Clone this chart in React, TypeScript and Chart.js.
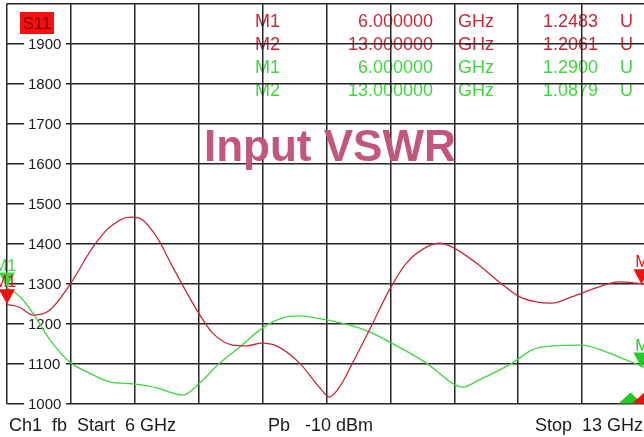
import { useEffect, useRef } from 'react';
import { Chart, registerables } from 'chart.js';

Chart.register(...registerables);

// ---- data (VSWR x 1000, frequency in GHz) ----
const redFreq = [6.0, 6.142, 6.284, 6.47, 6.7, 6.941, 7.127, 7.346, 7.455, 7.641, 7.816, 8.1, 8.253, 8.472, 8.625, 8.789, 8.953, 9.205, 9.424, 9.533, 9.642, 9.785, 9.971, 10.189, 10.375, 10.594, 10.736, 10.878, 11.141, 11.392, 11.611, 11.797, 11.972, 12.191, 12.453, 12.705, 12.891, 13.0];
const redVswr = [1248, 1240, 1221, 1234, 1301, 1391, 1441, 1466, 1463, 1416, 1341, 1226, 1176, 1146, 1144, 1151, 1144, 1101, 1040, 1016, 1041, 1101, 1184, 1284, 1351, 1391, 1401, 1391, 1351, 1304, 1267, 1254, 1251, 1267, 1289, 1304, 1301, 1298];

const greenFreq = [6.0, 6.142, 6.284, 6.47, 6.7, 6.875, 7.127, 7.378, 7.641, 7.816, 7.925, 8.111, 8.33, 8.549, 8.8, 9.019, 9.205, 9.424, 9.785, 9.971, 10.189, 10.594, 10.878, 10.988, 11.173, 11.534, 11.753, 11.972, 12.3, 12.563, 12.781, 12.956, 13.0];
const greenVswr = [1290, 1267, 1226, 1159, 1101, 1079, 1054, 1049, 1039, 1026, 1021, 1051, 1101, 1141, 1189, 1214, 1219, 1212, 1194, 1179, 1154, 1101, 1051, 1041, 1059, 1101, 1134, 1144, 1146, 1129, 1109, 1093, 1088];

const xGrid = [6, 6.7, 7.4, 8.1, 8.8, 9.5, 10.2, 10.9, 11.6, 12.3, 13];
const yGrid = [1000, 1100, 1200, 1300, 1400, 1500, 1600, 1700, 1800, 1900, 2000];
const yTickLabels = ['1000', '1100', '1200', '1300', '1400', '1500', '1600', '1700', '1800', '1900'];

const markerNames = ['M1', 'M2'];
const markerFreqs = [6, 12.95];
const markerFreqText = ['6.000000', '13.000000'];
const redMarkerVswr = [1248, 1298];
const greenMarkerVswr = [1290, 1090];
const redReadout = ['1.2483', '1.2061'];
const greenReadout = ['1.2900', '1.0879'];
const stimMarkerFreqs = [12.83, 12.98];

const RED = '#c8283c';
const GREEN = '#3fd63f';
const FONT = "'Liberation Sans', Arial, sans-serif";

function tri(ctx: CanvasRenderingContext2D, x: number, y: number, hw: number, h: number, down: boolean, color: string) {
  ctx.beginPath();
  if (down) {
    ctx.moveTo(x - hw, y - h);
    ctx.lineTo(x + hw, y - h);
    ctx.lineTo(x, y);
  } else {
    ctx.moveTo(x - hw, y);
    ctx.lineTo(x + hw, y);
    ctx.lineTo(x, y - h);
  }
  ctx.closePath();
  ctx.fillStyle = color;
  ctx.fill();
}

const overlay = {
  id: 'overlay',
  beforeDraw(chart: any) {
    const ctx = chart.ctx as CanvasRenderingContext2D;
    ctx.save();
    ctx.font = `18px ${FONT}`;
    ctx.textBaseline = 'middle';
    const rows = [
      { c: RED, i: 0, v: redReadout[0] },
      { c: RED, i: 1, v: redReadout[1] },
      { c: GREEN, i: 0, v: greenReadout[0] },
      { c: GREEN, i: 1, v: greenReadout[1] },
    ];
    rows.forEach((r, k) => {
      const y = 22 + k * 23;
      ctx.fillStyle = r.c;
      ctx.textAlign = 'left';
      ctx.fillText(markerNames[r.i], 255, y);
      ctx.textAlign = 'right';
      ctx.fillText(markerFreqText[r.i], 433, y);
      ctx.textAlign = 'left';
      ctx.fillText('GHz', 458, y);
      ctx.textAlign = 'right';
      ctx.fillText(r.v, 598, y);
      ctx.textAlign = 'left';
      ctx.fillText('U', 620, y);
    });
    ctx.restore();
  },
  beforeDatasetsDraw(chart: any) {
    const ctx = chart.ctx as CanvasRenderingContext2D;
    const ys = chart.scales.y;
    ctx.save();
    // y tick labels with white backdrop
    ctx.font = `15px ${FONT}`;
    ctx.textBaseline = 'middle';
    ctx.textAlign = 'left';
    yTickLabels.forEach((t) => {
      const py = ys.getPixelForValue(Number(t));
      ctx.fillStyle = '#ffffff';
      ctx.fillRect(24, py - 6, 42, 12);
      ctx.fillStyle = '#1a1a1a';
      ctx.fillText(t, 28, py + 1);
    });
    // S11 box
    ctx.fillStyle = '#f81010';
    ctx.fillRect(20, 12, 34, 22);
    ctx.fillStyle = '#7a0000';
    ctx.font = `17px ${FONT}`;
    ctx.textAlign = 'center';
    ctx.fillText('S11', 37, 24);
    // title
    ctx.font = `bold 44px ${FONT}`;
    ctx.fillStyle = '#c2567f';
    ctx.textAlign = 'left';
    ctx.textBaseline = 'alphabetic';
    ctx.fillText('Input VSWR', 204, 161);
    ctx.restore();
  },
  afterDatasetsDraw(chart: any) {
    const ctx = chart.ctx as CanvasRenderingContext2D;
    const xs = chart.scales.x;
    const ys = chart.scales.y;
    ctx.save();
    ctx.font = `16px ${FONT}`;
    ctx.textAlign = 'center';
    ctx.textBaseline = 'alphabetic';
    const drawMarker = (f: number, v: number, color: string, name: string, dx: number) => {
      const px = xs.getPixelForValue(f);
      const py = ys.getPixelForValue(v);
      tri(ctx, px, py, 8, 15, true, color);
      ctx.fillStyle = color;
      ctx.fillText(name, px + dx, py - 17);
    };
    drawMarker(markerFreqs[0], greenMarkerVswr[0], GREEN, markerNames[0], -2);
    drawMarker(markerFreqs[0], redMarkerVswr[0], '#f01010', markerNames[0], -2);
    drawMarker(markerFreqs[1], greenMarkerVswr[1], '#22cc22', markerNames[1], 5);
    drawMarker(markerFreqs[1], redMarkerVswr[1], '#f01010', markerNames[1], 5);
    // stimulus markers at bottom
    const by = ys.getPixelForValue(1000);
    tri(ctx, xs.getPixelForValue(stimMarkerFreqs[0]), by, 12, 11, false, '#22cc22');
    tri(ctx, xs.getPixelForValue(stimMarkerFreqs[1]), by, 12, 11, false, '#f01010');
    // footer
    ctx.font = `18px ${FONT}`;
    ctx.fillStyle = '#1a1a1a';
    ctx.textAlign = 'left';
    ctx.fillText('Ch1  fb  Start  6 GHz', 9, 431);
    ctx.fillText('Pb   -10 dBm', 268, 431);
    ctx.textAlign = 'right';
    ctx.fillText('Stop  13 GHz', 643, 431);
    ctx.restore();
  },
};

export default function App() {
  const ref = useRef<HTMLCanvasElement>(null);
  useEffect(() => {
    if (!ref.current) return;
    const grid = { color: '#262626', lineWidth: 1.5, drawTicks: false };
    const chart = new Chart(ref.current, {
      type: 'line',
      data: {
        datasets: [
          {
            data: redFreq.map((f, i) => ({ x: f, y: redVswr[i] })),
            borderColor: RED,
            borderWidth: 1.3,
            pointRadius: 0,
            cubicInterpolationMode: 'monotone',
          },
          {
            data: greenFreq.map((f, i) => ({ x: f, y: greenVswr[i] })),
            borderColor: GREEN,
            borderWidth: 1.3,
            pointRadius: 0,
            cubicInterpolationMode: 'monotone',
          },
        ],
      },
      options: {
        animation: false,
        responsive: false,
        layout: { padding: { left: 7, right: 4, top: 3.5, bottom: 33.5 } },
        plugins: { legend: { display: false }, tooltip: { enabled: false } },
        scales: {
          x: {
            type: 'linear',
            min: 6,
            max: 13,
            ticks: { display: false },
            grid,
            border: { display: false },
            afterBuildTicks: (s: any) => {
              s.ticks = xGrid.map((v) => ({ value: v }));
            },
          },
          y: {
            type: 'linear',
            min: 1000,
            max: 2000,
            ticks: { display: false },
            grid,
            border: { display: false },
            afterBuildTicks: (s: any) => {
              s.ticks = yGrid.map((v) => ({ value: v }));
            },
          },
        },
      },
      plugins: [overlay],
    } as any);
    return () => chart.destroy();
  }, []);
  return (
    <div style={{ position: 'absolute', left: 0, top: 0, width: 644, height: 437, overflow: 'hidden', background: '#fff' }}>
      <canvas ref={ref} width={650} height={437} />
    </div>
  );
}
